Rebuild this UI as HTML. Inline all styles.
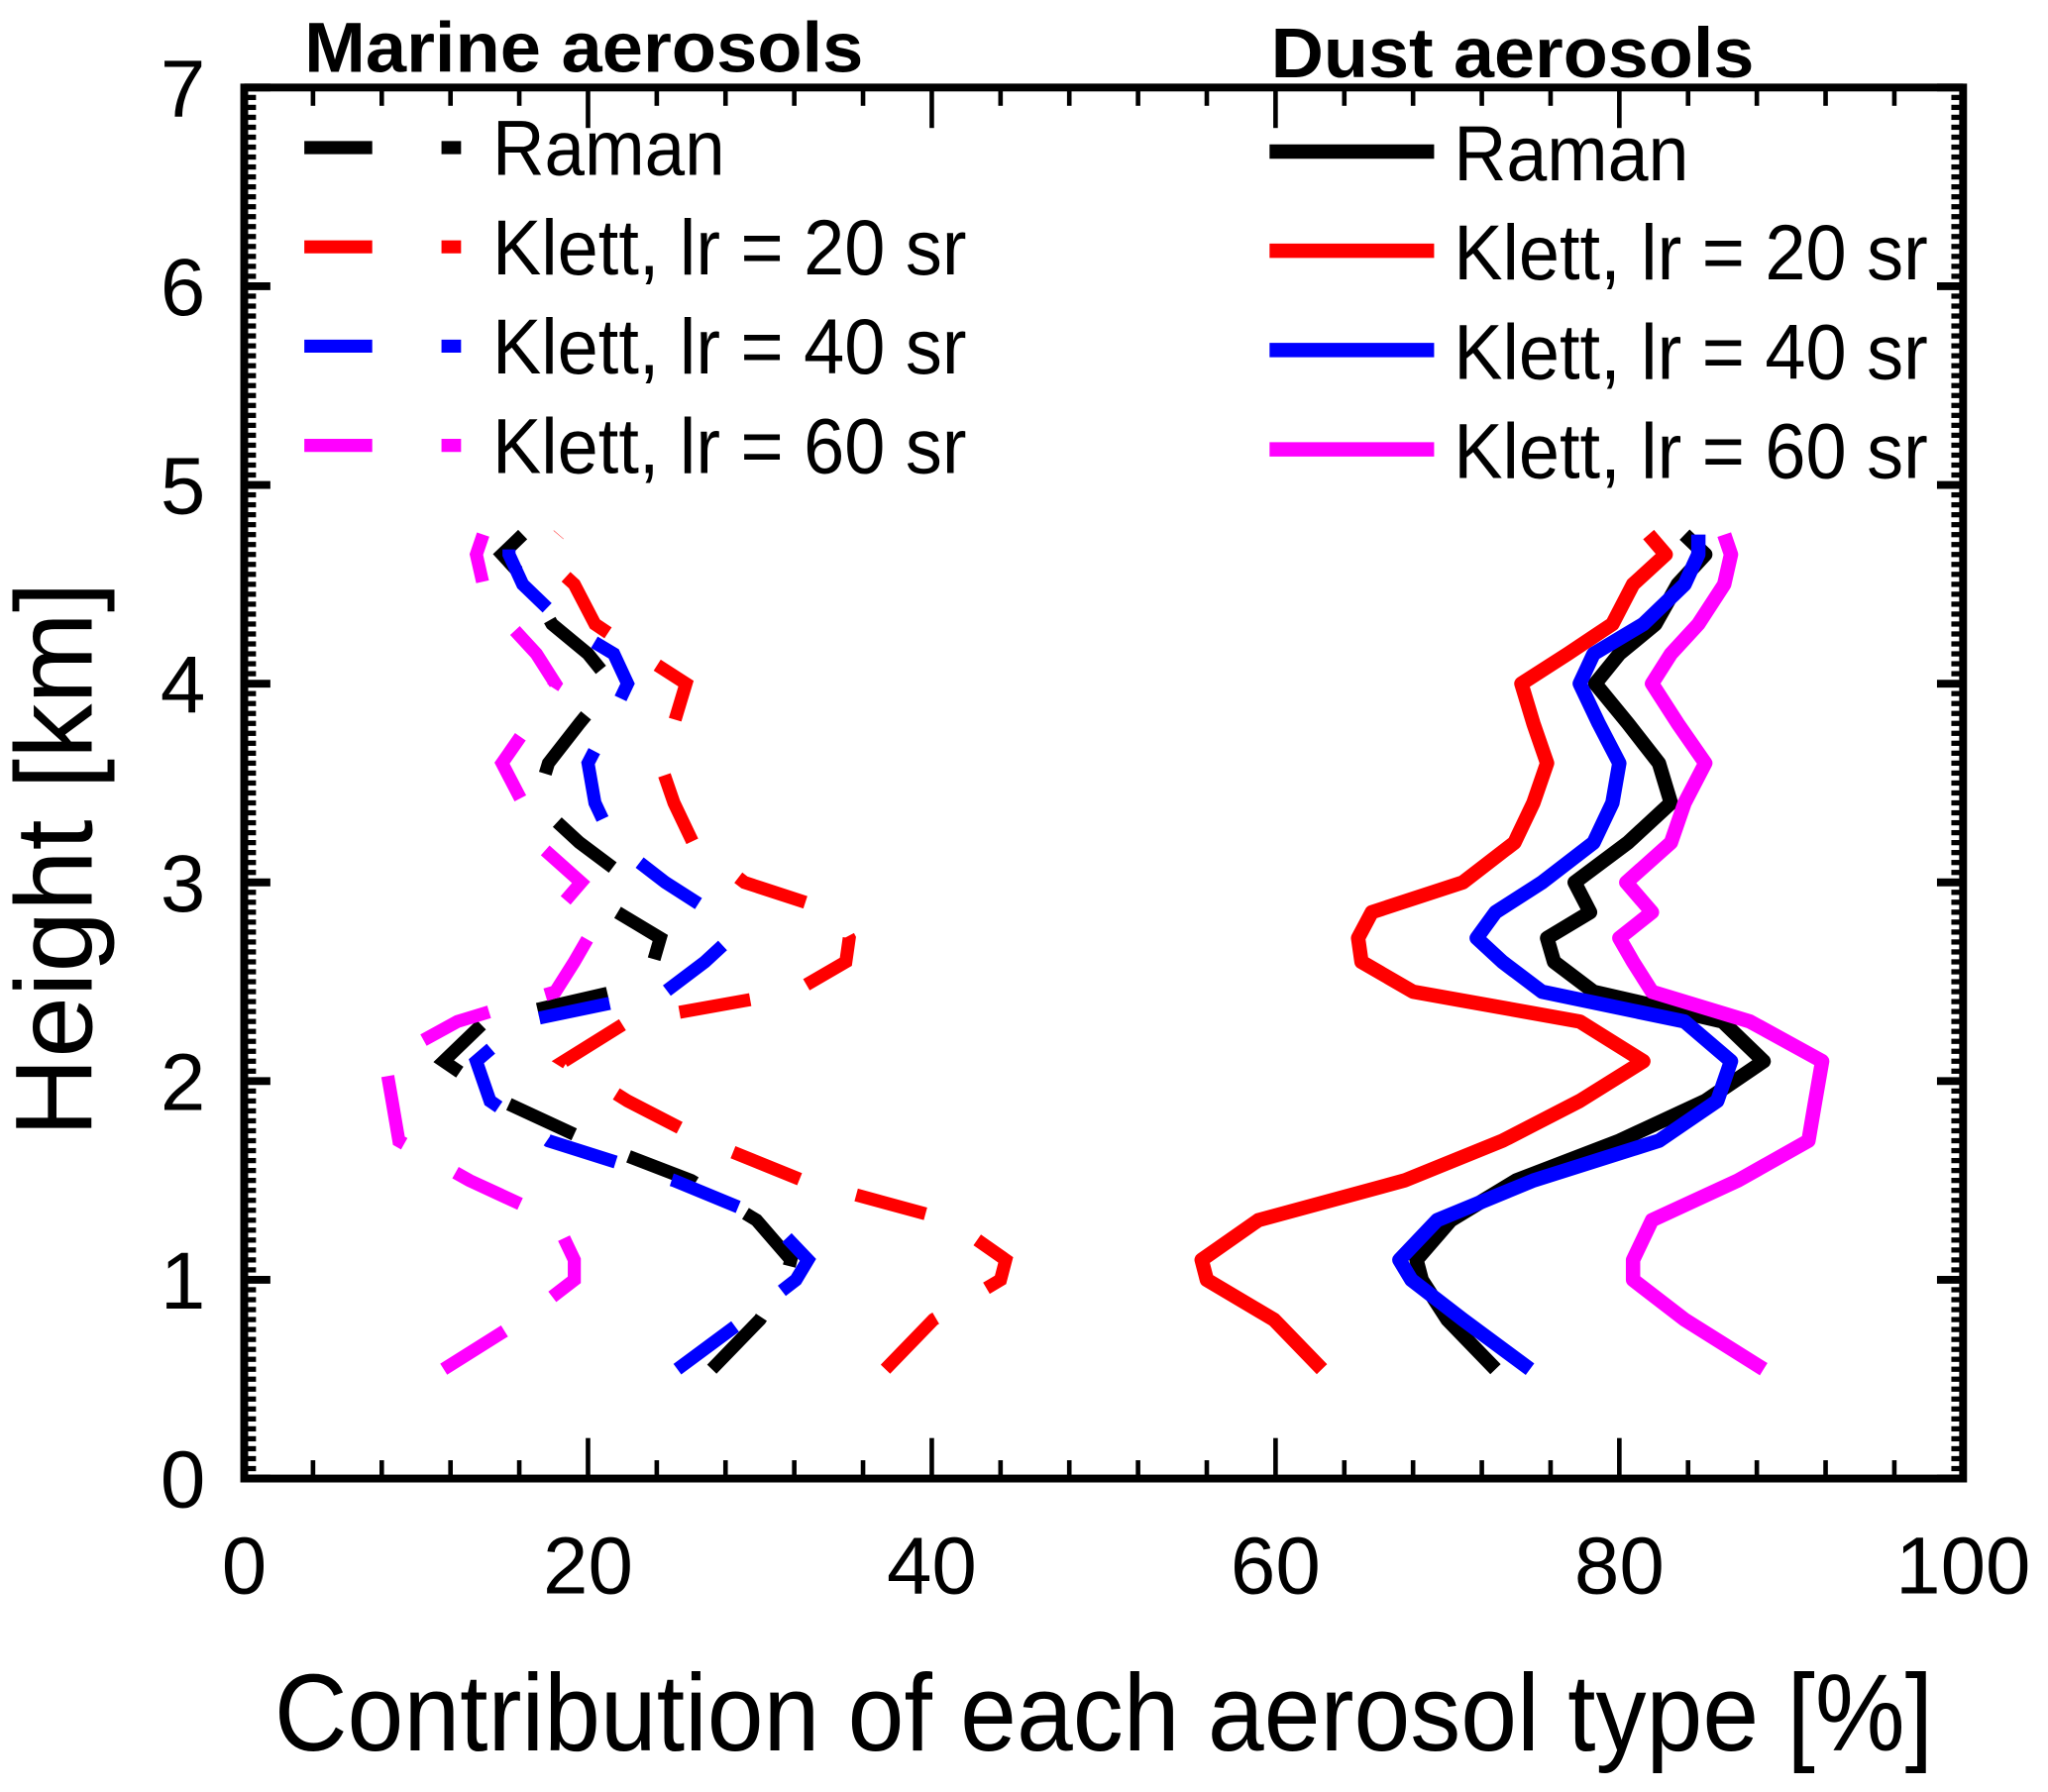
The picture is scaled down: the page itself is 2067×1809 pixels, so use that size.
<!DOCTYPE html>
<html><head><meta charset="utf-8"><style>
html,body{margin:0;padding:0;background:#fff}
svg{display:block}
text{font-family:"Liberation Sans",Arial,sans-serif;fill:#000}
</style></head><body>
<svg id="chart" width="2067" height="1809" viewBox="0 0 1568 1372" preserveAspectRatio="none" xmlns="http://www.w3.org/2000/svg">
<g id="ticks"></g>
<g id="series"></g>
<rect x="187" y="67" width="1316" height="1065" fill="none" stroke="#000" stroke-width="6"/>
<g id="labels"></g>
<text x="845" y="1340" font-size="84" text-anchor="middle" textLength="1270" lengthAdjust="spacingAndGlyphs">Contribution of each aerosol type [%]</text>
<text transform="translate(70,658) rotate(-90)" font-size="84" text-anchor="middle" textLength="425" lengthAdjust="spacingAndGlyphs">Height [km]</text>
<text x="233" y="55" font-size="54" font-weight="bold" textLength="428" lengthAdjust="spacingAndGlyphs">Marine aerosols</text>
<text x="973" y="59" font-size="54" font-weight="bold" textLength="370" lengthAdjust="spacingAndGlyphs">Dust aerosols</text>
<g id="legend"></g>
</svg>
<script>
const heights = [0.55,0.8,1.0,1.1,1.3,1.5,1.7,1.9,2.1,2.3,2.45,2.6,2.72,2.85,3.0,3.2,3.4,3.6,3.8,4.0,4.15,4.3,4.5,4.65,4.75];
const dustRaman = [72.8,70.0,68.5,68.2,70.2,74.0,80.0,85.0,88.4,86.0,78.5,76.2,75.8,78.3,77.4,80.5,83.0,82.3,80.5,78.6,80.0,82.1,83.4,85.0,83.8];
const dustK20 = [62.7,59.9,56.0,55.7,59.0,67.5,73.2,77.7,81.4,77.7,68.0,65.0,64.8,65.6,70.9,73.9,75.0,75.8,75.0,74.3,77.0,79.6,80.8,82.7,81.7];
const dustK40 = [74.8,70.9,67.9,67.2,69.4,75.0,82.3,85.7,86.5,83.8,75.5,73.2,71.7,72.8,75.5,78.5,79.6,80.0,78.8,77.7,78.5,81.4,83.8,84.6,84.6];
const dustK60 = [88.4,83.8,80.8,80.8,81.9,86.9,91.0,91.4,91.8,87.6,81.9,80.8,80.0,81.9,80.4,83.0,83.8,85.0,83.4,81.9,83.0,84.6,86.1,86.5,86.1];
const marineRaman = [27.2,30.0,31.5,31.8,29.8,26.0,20.0,15.0,11.6,14.0,21.5,23.8,24.2,21.7,22.6,19.5,17.0,17.7,19.5,21.4,20.0,17.9,16.6,15.0,16.2];
const marineK20 = [37.3,40.1,44.0,44.3,41.0,32.5,26.8,22.3,18.6,22.3,32.0,35.0,35.2,34.4,29.1,26.1,25.0,24.2,25.0,25.7,23.0,20.4,19.2,17.3,18.3];
const marineK40 = [25.2,29.1,32.1,32.8,30.6,25.0,17.7,14.3,13.5,16.2,24.5,26.8,28.3,27.2,24.5,21.5,20.4,20.0,21.2,22.3,21.5,18.6,16.2,15.4,15.4];
const marineK60 = [11.6,16.2,19.2,19.2,18.1,13.1,9.0,8.6,8.2,12.4,18.1,19.2,20.0,18.1,19.6,17.0,16.2,15.0,16.6,18.1,17.0,15.4,13.9,13.5,13.9];
const xTicks = [0,20,40,60,80,100];
const yTicks = [0,1,2,3,4,5,6,7];
const legendLabels = ["Raman","Klett, lr = 20 sr","Klett, lr = 40 sr","Klett, lr = 60 sr"];

const NS="http://www.w3.org/2000/svg";
const L=187,R=1503,T=67,B=1132;
const xs=v=>L+(v/100)*(R-L);
const ys=h=>B-(h/7)*(B-T);
function mk(tag,attrs,parent){const e=document.createElementNS(NS,tag);for(const k in attrs)e.setAttribute(k,attrs[k]);parent.appendChild(e);return e;}

const tg=document.getElementById('ticks');
for(let v=0;v<=100;v+=4){
  const major=v%20===0, len=major?31:14;
  let t=mk('line',{x1:xs(v),x2:xs(v),y1:B,y2:B-len,stroke:'#000','stroke-width':3.5},tg);
  
  
  t=mk('line',{x1:xs(v),x2:xs(v),y1:T,y2:T+len,stroke:'#000','stroke-width':3.5},tg);
  
  
}
for(let i=0;i<=140;i++){
  const h=i*0.05, major=i%20===0, len=major?20:9, w=major?6:4;
  let t=mk('line',{x1:L,x2:L+len,y1:ys(h),y2:ys(h),stroke:'#000','stroke-width':w},tg);
  
  
  t=mk('line',{x1:R,x2:R-len,y1:ys(h),y2:ys(h),stroke:'#000','stroke-width':w},tg);
  
  
}
const lg=document.getElementById('labels');
xTicks.forEach(v=>{const t=mk('text',{x:xs(v),y:1220,'font-size':62,'text-anchor':'middle'},lg);t.textContent=v;
  
  });
yTicks.forEach(v=>{const t=mk('text',{x:140,y:ys(v)+22,'font-size':62,'text-anchor':'middle'},lg);t.textContent=v;
  
  });

const sg=document.getElementById('series');
const colors=['#000','#ff0000','#0000ff','#ff00ff'];
const dust=[dustRaman,dustK20,dustK40,dustK60];
const marine=[marineRaman,marineK20,marineK40,marineK60];
const names=['raman','klett-20','klett-40','klett-60'];
function pts(arr){return arr.map((v,i)=>xs(v).toFixed(1)+','+ys(heights[i]).toFixed(1)).join(' ');}
marine.forEach((arr,k)=>{
  const p=mk('polyline',{points:pts(arr),fill:'none',stroke:colors[k],'stroke-width':10,'stroke-dasharray':'55 45'},sg);
  
  
});
dust.forEach((arr,k)=>{
  const p=mk('polyline',{points:pts(arr),fill:'none',stroke:colors[k],'stroke-width':11,'stroke-linejoin':'round'},sg);
  
  
});

const leg=document.getElementById('legend');
const ly=[113,189,265,341];
legendLabels.forEach((lab,k)=>{
  let e=mk('line',{x1:233,x2:285,y1:ly[k],y2:ly[k],stroke:colors[k],'stroke-width':10},leg);
  
  
  e=mk('line',{x1:338,x2:353,y1:ly[k],y2:ly[k],stroke:colors[k],'stroke-width':10},leg);
  
  
  e=mk('text',{x:377,y:ly[k]+21,'font-size':60,textLength:lab.length>6?363:178,lengthAdjust:'spacingAndGlyphs'},leg);e.textContent=lab;
  
  
  e=mk('line',{x1:972,x2:1098,y1:ly[k]+3,y2:ly[k]+3,stroke:colors[k],'stroke-width':11},leg);
  
  
  e=mk('text',{x:1113,y:ly[k]+25,'font-size':60,textLength:lab.length>6?363:180,lengthAdjust:'spacingAndGlyphs'},leg);e.textContent=lab;
  
  
});
</script>
</body></html>
